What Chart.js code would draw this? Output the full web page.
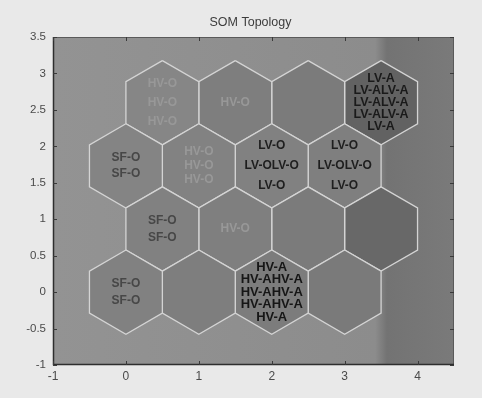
<!DOCTYPE html>
<html>
<head>
<meta charset="utf-8">
<script src="https://cdn.jsdelivr.net/npm/chart.js@4/dist/chart.umd.min.js"></script>
<style>
html,body{margin:0;padding:0;background:#e9e9e9;}
#wrap{width:482px;height:398px;}
</style>
</head>
<body>
<div id="wrap"><canvas id="c" width="482" height="398"></canvas></div>
<script>
// ---- data ----
const chartTitle = 'SOM Topology';
const cellX = [0, 1, 2, 3, 0.5, 1.5, 2.5, 3.5, 0, 1, 2, 3, 0.5, 1.5, 2.5, 3.5];
const cellY = [0, 0, 0, 0, 0.866, 0.866, 0.866, 0.866, 1.732, 1.732, 1.732, 1.732, 2.598, 2.598, 2.598, 2.598];
const cellLabels = [
  ['SF-O', 'SF-O'], [], ['HV-A', 'HV-AHV-A', 'HV-AHV-A', 'HV-AHV-A', 'HV-A'], [],
  ['SF-O', 'SF-O'], ['HV-O'], [], [],
  ['SF-O', 'SF-O'], ['HV-O', 'HV-O', 'HV-O'], ['LV-O', 'LV-OLV-O', 'LV-O'], ['LV-O', 'LV-OLV-O', 'LV-O'],
  ['HV-O', 'HV-O', 'HV-O'], ['HV-O'], [], ['LV-A', 'LV-ALV-A', 'LV-ALV-A', 'LV-ALV-A', 'LV-A']
];
const xTicks = [-1, 0, 1, 2, 3, 4];
const xTickLabels = ['-1', '0', '1', '2', '3', '4'];
const yTicks = [-1, -0.5, 0, 0.5, 1, 1.5, 2, 2.5, 3, 3.5];
const yTickLabels = ['-1', '-0.5', '0', '0.5', '1', '1.5', '2', '2.5', '3', '3.5'];

// ---- styles ----
const cellShade = ['#818181', '#7e7e7e', '#7c7c7c', '#7a7a7a',
                   '#818181', '#7f7f7f', '#7b7b7b', '#686868',
                   '#848484', '#828282', '#818181', '#7f7f7f',
                   '#868686', '#7e7e7e', '#7b7b7b', '#626262'];
const labelSpacing = [17, 0, 12.5, 0, 17, 0, 0, 0, 16, 14, 20, 20, 19, 0, 0, 12];
const labelStyle = {
  'SF-O': {color: '#474747', size: 12},
  'HV-O': {color: '#989898', size: 12},
  'LV-O': {color: '#1e1e1e', size: 12},
  'LV-A': {color: '#1a1a1a', size: 12.5},
  'HV-A': {color: '#161616', size: 13}
};
const HEX_R = 1 / Math.sqrt(3);
const FONT = '"Liberation Sans", Arial, sans-serif';

function hexVertices(cx, cy) {
  const pts = [];
  for (let k = 0; k <= 6; k++) {
    const a = Math.PI / 2 - k * Math.PI / 3;
    pts.push({x: cx + HEX_R * Math.cos(a), y: cy + HEX_R * Math.sin(a)});
  }
  return pts;
}

const datasets = cellX.map((cx, i) => ({
  type: 'line',
  data: hexVertices(cx, cellY[i]),
  showLine: true,
  fill: 'shape',
  backgroundColor: cellShade[i],
  borderColor: '#d4d4d4',
  borderWidth: 1.3,
  pointRadius: 0,
  tension: 0
}));

const bgPlugin = {
  id: 'bg',
  beforeDraw(chart) {
    const {ctx, chartArea: a} = chart;
    ctx.save();
    ctx.fillStyle = '#e9e9e9';
    ctx.fillRect(0, 0, chart.width, chart.height);
    const xs = chart.scales.x;
    const g = ctx.createLinearGradient(a.left, 0, a.right, 0);
    const p1 = (xs.getPixelForValue(3.42) - a.left) / (a.right - a.left);
    const p2 = (xs.getPixelForValue(3.58) - a.left) / (a.right - a.left);
    g.addColorStop(0, '#939393');
    g.addColorStop(p1, '#8c8c8c');
    g.addColorStop(p2, '#737373');
    g.addColorStop(1, '#7a7a7a');
    ctx.fillStyle = g;
    ctx.fillRect(a.left, a.top, a.right - a.left, a.bottom - a.top);
    // title
    ctx.fillStyle = '#3c3c3c';
    ctx.font = '12.5px ' + FONT;
    ctx.textAlign = 'center';
    ctx.textBaseline = 'middle';
    ctx.fillText(chartTitle, (a.left + a.right) / 2 - 3, 23);
    ctx.restore();
  },
  afterDatasetsDraw(chart) {
    const {ctx, chartArea: a, scales: {x, y}} = chart;
    ctx.save();
    ctx.textAlign = 'center';
    ctx.textBaseline = 'middle';
    cellLabels.forEach((lines, i) => {
      if (!lines.length) return;
      const px = x.getPixelForValue(cellX[i]);
      const py = y.getPixelForValue(cellY[i]);
      const sp = labelSpacing[i];
      const st = labelStyle[lines[0]];
      ctx.fillStyle = st.color;
      ctx.font = 'bold ' + st.size + 'px ' + FONT;
      lines.forEach((t, j) => {
        ctx.fillText(t, px, py + (j - (lines.length - 1) / 2) * sp);
      });
    });
    // frame
    ctx.strokeStyle = '#5a5a5a';
    ctx.lineWidth = 1;
    ctx.strokeRect(a.left + 0.5, a.top + 0.5, a.right - a.left - 1, a.bottom - a.top - 1);
    ctx.strokeStyle = '#2e2e2e';
    ctx.lineWidth = 1.5;
    ctx.beginPath();
    ctx.moveTo(a.left + 0.5, a.top);
    ctx.lineTo(a.left + 0.5, a.bottom - 0.5);
    ctx.lineTo(a.right, a.bottom - 0.5);
    ctx.stroke();
    // inward ticks
    ctx.strokeStyle = '#3a3a3a';
    ctx.lineWidth = 1;
    ctx.beginPath();
    xTicks.forEach(v => {
      const px = Math.round(x.getPixelForValue(v)) + 0.5;
      ctx.moveTo(px, a.bottom); ctx.lineTo(px, a.bottom - 4);
      ctx.moveTo(px, a.top); ctx.lineTo(px, a.top + 4);
    });
    yTicks.forEach(v => {
      const py = Math.round(y.getPixelForValue(v)) + 0.5;
      ctx.moveTo(a.left, py); ctx.lineTo(a.left + 4, py);
      ctx.moveTo(a.right, py); ctx.lineTo(a.right - 4, py);
    });
    ctx.stroke();
    ctx.restore();
  }
};

new Chart(document.getElementById('c'), {
  type: 'scatter',
  data: {datasets},
  plugins: [bgPlugin],
  options: {
    responsive: false,
    animation: false,
    devicePixelRatio: 1,
    layout: {padding: {left: 0, right: 28, top: 37, bottom: 0}},
    plugins: {
      legend: {display: false},
      tooltip: {enabled: false},
      title: {display: false}
    },
    scales: {
      x: {
        type: 'linear', min: -1, max: 4.5,
        grid: {display: false, drawTicks: false}, border: {display: false},
        afterBuildTicks: s => { s.ticks = xTicks.map(v => ({value: v})); },
        afterFit: s => { s.height = 33; },
        ticks: {
          color: '#4a4a4a', padding: 4, maxRotation: 0,
          font: {size: 12, family: FONT},
          callback: (v) => xTickLabels[xTicks.indexOf(v)]
        }
      },
      y: {
        type: 'linear', min: -1, max: 3.5,
        grid: {display: false, drawTicks: false}, border: {display: false},
        afterBuildTicks: s => { s.ticks = yTicks.map(v => ({value: v})); },
        afterFit: s => { s.width = 53; },
        ticks: {
          color: '#4a4a4a', padding: 7,
          font: {size: 11.5, family: FONT},
          callback: (v) => yTickLabels[yTicks.indexOf(v)]
        }
      }
    }
  }
});
</script>
</body>
</html>
